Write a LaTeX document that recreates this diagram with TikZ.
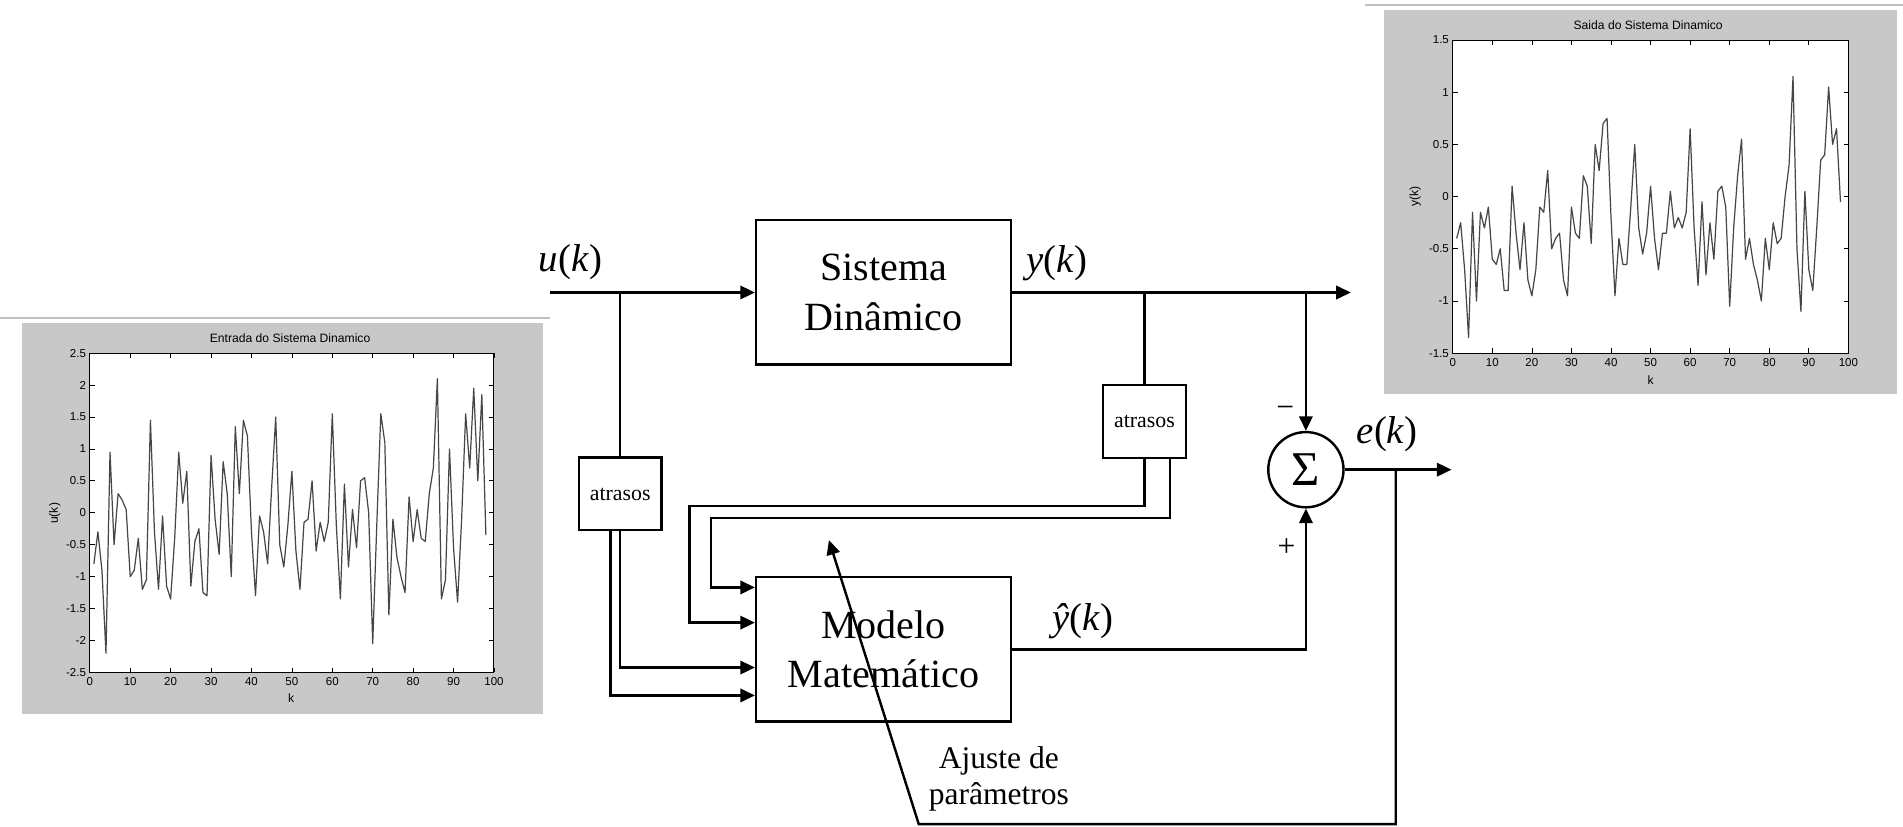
\documentclass[tikz,border=0pt]{standalone}
\usepackage{fontspec}
\setmainfont{Liberation Serif}
\newfontfamily\plotfont{Liberation Sans}
\usetikzlibrary{arrows.meta}
\definecolor{panel}{RGB}{200,200,200}
\definecolor{topline}{RGB}{192,192,192}
\definecolor{plotline}{RGB}{70,70,70}
\begin{document}
\begin{tikzpicture}[x=1pt,y=-1pt,
  block/.style={draw, line width=2pt, minimum width=210pt, minimum height=119pt, inner sep=0pt, align=center, font=\fontsize{33}{41}\selectfont},
  delaybox/.style={draw, line width=1.8pt, minimum width=68pt, minimum height=60pt, inner sep=0pt, font=\fontsize{18}{20}\selectfont},
  sumnode/.style={draw, circle, line width=2pt, minimum size=62pt, inner sep=0pt, font=\fontsize{40}{40}\selectfont},
  wire/.style={line width=2pt},
  arr/.style={wire, -{Triangle[length=12pt,width=11pt]}},
  lbl/.style={inner sep=0pt, font=\fontsize{32}{36}\selectfont},
  sign/.style={inner sep=0pt, font=\fontsize{26}{26}\selectfont},
  ticklbl/.style={inner sep=0pt, font=\plotfont\fontsize{9.5}{11}\selectfont},
  plottitle/.style={inner sep=0pt, font=\plotfont\fontsize{10}{12}\selectfont},
  axesbox/.style={draw=black, line width=0.8pt, fill=white},
  tick/.style={line width=0.6pt},
  dataline/.style={plotline, line width=1pt, line join=round}
]
\useasboundingbox (0,0) rectangle (1568,681);

% ---------------- left plot panel ----------------
\draw[topline, line width=1.5pt] (0,262) -- (453,262);
\fill[panel] (18,266) rectangle (447,588);
\draw[axesbox] (74,291) rectangle (407,554);
\node[plottitle] (t1) at (239,279) {Entrada do Sistema Dinamico};
\node[plottitle] (xk1) at (240,575) {k};
\node[plottitle, rotate=90] (yu1) at (45,423) {u(k)};
\begin{scope}[shift={(74pt,-422.5pt)}, x=3.33pt, y=52.6pt]
  \foreach \k in {0,10,...,100} {
    \draw[tick] (\k,-2.5) -- ++(0,4pt);
    \draw[tick] (\k,2.5) -- ++(0,-4pt);
    \node[ticklbl, anchor=north] (lx\k) at ([yshift=-4pt]\k,-2.5) {\k};
  }
  \foreach \v [count=\i] in {2.5,2,1.5,1,0.5,0,-0.5,-1,-1.5,-2,-2.5} {
    \draw[tick] (0,\v) -- ++(4pt,0);
    \draw[tick] (100,\v) -- ++(-4pt,0);
    \node[ticklbl, anchor=east] (ly\i) at ([xshift=-3pt]0,\v) {\v};
  }
  \draw[dataline] plot coordinates {(1,-0.8)(2,-0.3)(3,-0.9)(4,-2.2)(5,0.95)(6,-0.5)(7,0.3)(8,0.2)(9,0.05)(10,-1)(11,-0.9)(12,-0.4)(13,-1.2)(14,-1.05)(15,1.45)(16,-0.3)(17,-1.2)(18,-0.05)(19,-1.15)(20,-1.35)(21,-0.4)(22,0.95)(23,0.15)(24,0.65)(25,-1.15)(26,-0.45)(27,-0.25)(28,-1.25)(29,-1.3)(30,0.9)(31,-0.1)(32,-0.65)(33,0.8)(34,0.3)(35,-1)(36,1.35)(37,0.3)(38,1.45)(39,1.2)(40,-0.3)(41,-1.3)(42,-0.05)(43,-0.3)(44,-0.8)(45,0.4)(46,1.5)(47,-0.5)(48,-0.85)(49,-0.2)(50,0.65)(51,-0.6)(52,-1.2)(53,-0.15)(54,-0.1)(55,0.5)(56,-0.6)(57,-0.15)(58,-0.45)(59,-0.15)(60,1.55)(61,-0.2)(62,-1.35)(63,0.45)(64,-0.85)(65,0.05)(66,-0.55)(67,0.5)(68,0.55)(69,0)(70,-2.05)(71,-0.2)(72,1.55)(73,1.1)(74,-1.6)(75,-0.1)(76,-0.7)(77,-1)(78,-1.25)(79,0.25)(80,-0.45)(81,0.05)(82,-0.4)(83,-0.45)(84,0.3)(85,0.7)(86,2.1)(87,-1.35)(88,-1.05)(89,1)(90,-0.55)(91,-1.4)(92,-0.1)(93,1.55)(94,0.7)(95,1.95)(96,0.5)(97,1.85)(98,-0.35)};
\end{scope}

% ---------------- right plot panel ----------------
\draw[topline, line width=1.5pt] (1125,4) -- (1568,4);
\fill[panel] (1140,8) rectangle (1563,325);
\draw[axesbox] (1197,33) rectangle (1523,291);
\node[plottitle] (t2) at (1358,21) {Saida do Sistema Dinamico};
\node[plottitle] (xk2) at (1360,313) {k};
\node[plottitle, rotate=90] (yu2) at (1166,162) {y(k)};
\begin{scope}[shift={(1197pt,-162pt)}, x=3.26pt, y=86pt]
  \foreach \k in {0,10,...,100} {
    \draw[tick] (\k,-1.5) -- ++(0,4pt);
    \draw[tick] (\k,1.5) -- ++(0,-4pt);
    \node[ticklbl, anchor=north] (rx\k) at ([yshift=-4pt]\k,-1.5) {\k};
  }
  \foreach \v [count=\i] in {1.5,1,0.5,0,-0.5,-1,-1.5} {
    \draw[tick] (0,\v) -- ++(4pt,0);
    \draw[tick] (100,\v) -- ++(-4pt,0);
    \node[ticklbl, anchor=east] (ry\i) at ([xshift=-3pt]0,\v) {\v};
  }
  \draw[dataline] plot coordinates {(1,-0.4)(2,-0.25)(3,-0.7)(4,-1.35)(5,-0.15)(6,-1)(7,-0.15)(8,-0.3)(9,-0.1)(10,-0.6)(11,-0.65)(12,-0.5)(13,-0.9)(14,-0.9)(15,0.1)(16,-0.35)(17,-0.7)(18,-0.25)(19,-0.8)(20,-0.95)(21,-0.7)(22,-0.1)(23,-0.15)(24,0.25)(25,-0.5)(26,-0.4)(27,-0.35)(28,-0.8)(29,-0.95)(30,-0.1)(31,-0.35)(32,-0.4)(33,0.2)(34,0.1)(35,-0.45)(36,0.5)(37,0.25)(38,0.7)(39,0.75)(40,-0.2)(41,-0.95)(42,-0.4)(43,-0.65)(44,-0.65)(45,-0.1)(46,0.5)(47,-0.3)(48,-0.55)(49,-0.35)(50,0.1)(51,-0.4)(52,-0.7)(53,-0.35)(54,-0.35)(55,0.05)(56,-0.3)(57,-0.2)(58,-0.3)(59,-0.15)(60,0.65)(61,-0.3)(62,-0.85)(63,-0.05)(64,-0.75)(65,-0.25)(66,-0.6)(67,0.05)(68,0.1)(69,-0.1)(70,-1.05)(71,-0.3)(72,0.2)(73,0.55)(74,-0.6)(75,-0.4)(76,-0.65)(77,-0.8)(78,-1)(79,-0.4)(80,-0.7)(81,-0.25)(82,-0.45)(83,-0.4)(84,0)(85,0.3)(86,1.15)(87,-0.5)(88,-1.1)(89,0.05)(90,-0.7)(91,-0.9)(92,-0.3)(93,0.35)(94,0.4)(95,1.05)(96,0.5)(97,0.65)(98,-0.05)};
\end{scope}

% ---------------- block diagram ----------------
\node[block] (sis) at (728,241) {Sistema\\Dinâmico};
\node[block] (mod) at (728,535) {Modelo\\Matemático};
\node[delaybox] (at1) at (511,407) {atrasos};
\node[delaybox] (at2) at (943,347.5) {atrasos};
\node[sumnode] (sum) at (1076,387) {Σ};

\coordinate (in) at (453,241);
\coordinate (j1) at (511,241);
\coordinate (j2) at (943,241);
\coordinate (j3) at (1076,241);
\coordinate (yout) at (1113,241);
\coordinate (eout) at (1196,387);
\coordinate (j4) at (1150,387);
\coordinate (fb) at (757,679);
\coordinate (adj) at (683,445);
\path (mod.west) ++(0,-51) coordinate (mi1) ++(0,29) coordinate (mi2) ++(0,37) coordinate (mi3) ++(0,23) coordinate (mi4);

\draw[arr] (in) -- (sis.west);
\draw[wire] (j1) -- (at1.north);
\draw[arr] (sis.east) -- (yout);
\draw[wire] (j2) -- (at2.north);
\draw[arr] (j3) -- (sum.north);
\draw[arr] (at1.south) |- (mi3);
\draw[arr] ([xshift=-8pt]at1.south) |- (mi4);
\draw[arr] (at2.south) |- (568,417) |- (mi2);
\draw[arr] ([xshift=21pt]at2.south) |- (586,427) |- (mi1);
\draw[arr] (mod.east) -| (sum.south);
\draw[arr] (sum.east) -- (eout);
\draw[arr] (j4) |- (fb) -- (adj);

\node[lbl] (lu) at (470,216) {\textit{u}(\textit{k})};
\node[lbl] (ly) at (871,217) {\textit{y}(\textit{k})};
\node[lbl] (lyh) at (892,512) {\textit{\^y}(\textit{k})};
\node[lbl] (le) at (1143,358) {\textit{e}(\textit{k})};
\node[sign] (minus) at (1059,339) {−};
\node[sign] (plus) at (1060,451) {+};
\node[inner sep=0pt, align=center, font=\fontsize{26}{30}\selectfont] (adjlbl) at (823,642) {Ajuste de\\parâmetros};
\end{tikzpicture}
\end{document}
